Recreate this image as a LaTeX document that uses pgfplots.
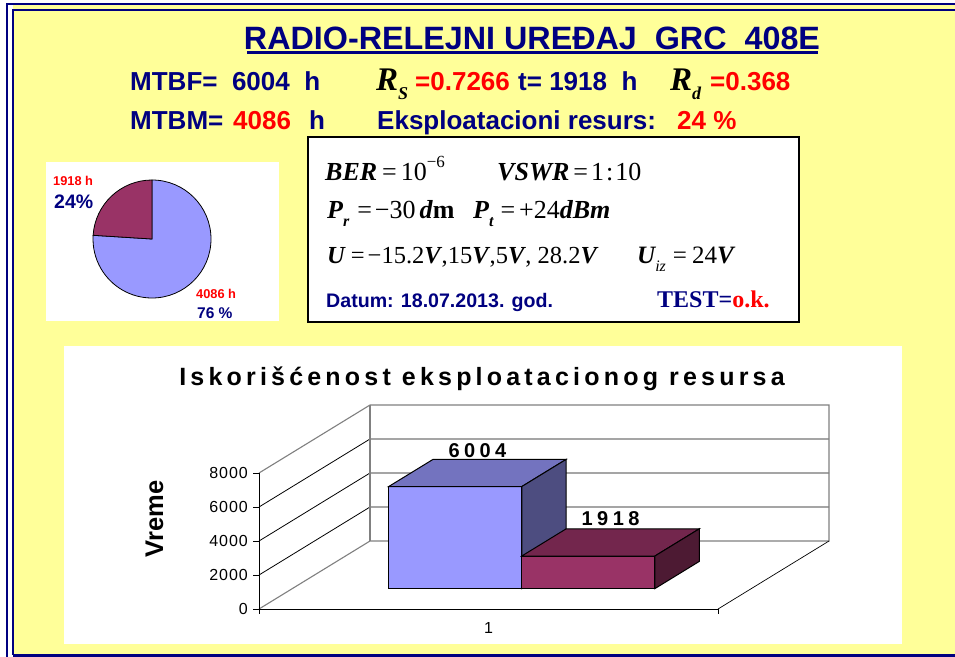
\documentclass[border=0pt]{standalone}
\usepackage{pgfplots}
\pgfplotsset{compat=1.18}
\usepackage{fontspec}
\setmainfont{Liberation Sans}
\newfontfamily\tnr{Liberation Serif}
\definecolor{bgyellow}{HTML}{FFFF99}
\definecolor{navy}{HTML}{000080}
\definecolor{bfront}{HTML}{9999FF}
\definecolor{btop}{HTML}{7373BF}
\definecolor{bside}{HTML}{4D4D80}
\definecolor{rfront}{HTML}{993366}
\definecolor{rtop}{HTML}{73264D}
\definecolor{rside}{HTML}{4D1A33}
\definecolor{wallgray}{HTML}{808080}
\newcommand\fs[1]{\fontsize{#1}{#1}\selectfont}
\newcommand\bi[1]{{\bfseries\itshape #1}}
\newcommand\sub[1]{\raisebox{-0.32em}{\fs{16}#1}}
\begin{document}
\begin{tikzpicture}
\begin{scope}[x=1pt,y=-1pt]
\useasboundingbox (0,0) rectangle (955,656);
% background and frame
\fill[white] (0,0) rectangle (955,656);
\fill[bgyellow] (13,4) rectangle (955,656);
\draw[navy, line width=2pt] (7,660) -- (7,4) -- (960,4);
\draw[navy, line width=2pt] (13,654.5) -- (13,10) -- (960,10);
\draw[navy, line width=3pt] (13,655) -- (960,655);
% title
\node[anchor=base, inner sep=0, text=navy, font=\fs{32.3}\bfseries] at (532,49.5) {RADIO-RELEJNI UREĐAJ\ \ GRC\ \ 408E};
\draw[navy, line width=3pt] (247,52.8) -- (818,52.8);
% line 2
\begin{scope}[every node/.style={anchor=base west, inner sep=0}]
\node[text=navy, font=\fs{26}\bfseries] at (130,90) {MTBF=\ \ 6004\ \ h};
\node[font=\tnr\fs{33}] at (376,90) {\bi{R}\raisebox{-0.3em}{\fs{18}\bi{S}}};
\node[text=red, font=\fs{26}\bfseries] at (415,90) {=0.7266};
\node[text=navy, font=\fs{26}\bfseries] at (518,90) {t=\ 1918\ \ h};
\node[font=\tnr\fs{33}] at (670,90) {\bi{R}\raisebox{-0.3em}{\fs{18}\bi{d}}};
\node[text=red, font=\fs{26}\bfseries] at (710,90) {=0.368};
% line 3
\node[text=navy, font=\fs{26}\bfseries] at (130,129) {MTBM=};
\node[text=red, font=\fs{26}\bfseries] at (233,129) {4086};
\node[text=navy, font=\fs{26}\bfseries] at (309,129) {h};
\node[text=navy, font=\fs{26}\bfseries] at (377,129) {Eksploatacioni resurs:};
\node[text=red, font=\fs{26}\bfseries] at (677,129) {24 \%};
\end{scope}
% white panels
\fill[white] (46,162) rectangle (279,321);
\filldraw[fill=white, draw=black, line width=2pt] (308,137) rectangle (799,322);
\fill[white] (64,346) rectangle (902,644);
% box text
\begin{scope}[every node/.style={anchor=base west, inner sep=0}]
\node[font=\tnr\fs{26}] at (325,180) {\bi{BER}\hspace{5pt}=\hspace{4pt}10\raisebox{0.5em}{\fs{17}−6}};
\node[font=\tnr\fs{26}] at (497,180) {\bi{VSWR}\hspace{4pt}=\hspace{3pt}1\hspace{2pt}:\hspace{2pt}10};
\node[font=\tnr\fs{26}] at (327,218) {\bi{P}\sub{\bi{r}}\hspace{8pt}=\hspace{3pt}−30\hspace{4pt}\bi{d}\textbf{m}};
\node[font=\tnr\fs{26}] at (473,218) {\bi{P}\sub{\bi{t}}\hspace{7pt}=\hspace{4pt}+24\bi{dBm}};
\node[font=\tnr\fs{24.5}] at (327,263) {\bi{U}\hspace{6pt}=\hspace{3pt}−15.2\bi{V}\hspace{1pt},15\bi{V}\hspace{1pt},5\bi{V}\hspace{1pt}, 28.2\bi{V}};
\node[font=\tnr\fs{25}] at (637,263) {\bi{U}\sub{\itshape iz}\hspace{7pt}=\hspace{5pt}24\bi{V}};
\node[text=navy, font=\fs{19.6}\bfseries] at (326,307) {Datum: 18.07.2013. god.};
\node[text=navy, font=\tnr\fs{24}\bfseries] at (657,307) {TEST=\textcolor{red}{o.k.}};
% pie labels
\node[text=red, font=\fs{12.8}\bfseries] at (53,185) {1918 h};
\node[text=navy, font=\fs{19.5}\bfseries] at (54,208) {24\%};
\node[text=red, font=\fs{12.8}\bfseries] at (196,298) {4086 h};
\node[text=navy, font=\fs{15.5}\bfseries] at (197,318) {76 \%};
\end{scope}
% chart title and y label
\node[anchor=base, inner sep=0, font=\fs{25}\bfseries\addfontfeatures{LetterSpace=16.8}] at (482,385) {Iskorišćenost eksploatacionog resursa};
\node[anchor=base, inner sep=0, rotate=90, font=\fs{25.5}\bfseries] at (163,519) {Vreme};
\end{scope}
% pie chart
\begin{axis}[at={(152pt,-239pt)}, anchor=origin, x={(1pt,0pt)}, y={(0pt,1pt)},
  xmin=-60, xmax=60, ymin=-60, ymax=60, hide axis, clip=false]
\filldraw[fill=bfront, draw=black, line width=0.8pt] (axis cs:0,0) -- (axis cs:0,59) arc[start angle=90, end angle=-183.6, radius=59pt] -- cycle;
\filldraw[fill=rfront, draw=black, line width=0.8pt] (axis cs:0,0) -- (axis cs:0,59) arc[start angle=90, end angle=176.4, radius=59pt] -- cycle;
\end{axis}
% 3D bar chart
\begin{axis}[at={(259pt,-609pt)}, anchor=origin,
  x={(459pt,0pt)}, y={(111pt,68pt)}, z={(0pt,0.017pt)},
  xmin=0, xmax=1, ymin=0, ymax=1, zmin=0, zmax=8000,
  hide axis, clip=false,
  every axis plot/.append style={no markers}]
% gridlines
\foreach \v in {2000,4000,6000}{
  \edef\tmp{\noexpand\draw[black, line width=0.8pt] (axis cs:0,0,\v) -- (axis cs:0,1,\v) -- (axis cs:1,1,\v);}\tmp
}
% wall edges
\draw[wallgray, line width=1.1pt] (axis cs:0,0,0) -- (axis cs:0,1,0) -- (axis cs:1,1,0) -- (axis cs:1,1,8000) -- (axis cs:0,1,8000) -- (axis cs:0,0,8000);
\draw[wallgray, line width=1.1pt] (axis cs:0,1,0) -- (axis cs:0,1,8000);
% floor and axes
\draw[black, line width=0.7pt] (axis cs:1,0,0) -- (axis cs:1,1,0);
\draw[black, line width=1pt] (axis cs:0,0,8000) -- (axis cs:0,0,0) -- (axis cs:1,0,0);
\foreach \v in {0,2000,4000,6000,8000}{
  \edef\tmp{\noexpand\draw[black, line width=0.8pt] (axis cs:0,0,\v) -- ++(-6pt,0pt);
  \noexpand\node[anchor=east, inner sep=0, font=\noexpand\fs{16}\noexpand\addfontfeatures{LetterSpace=6}] at (axis cs:0,0,\v) [xshift=-11pt] {\v};}\tmp
}
\draw[black, line width=0.8pt] (axis cs:0,0,0) -- ++(0pt,-5pt);
\draw[black, line width=0.8pt] (axis cs:1,0,0) -- ++(0pt,-5pt);
\node[anchor=north, inner sep=0, font=\fs{16}] at (axis cs:0.5,0,0) [yshift=-13pt] {1};
% blue bar 6004
\addplot3[fill=bfront, draw=black, line width=1pt] coordinates {(0.21,0.3,0) (0.5,0.3,0) (0.5,0.3,6004) (0.21,0.3,6004)} -- cycle;
\addplot3[fill=btop, draw=black, line width=1pt] coordinates {(0.21,0.3,6004) (0.5,0.3,6004) (0.5,0.7,6004) (0.21,0.7,6004)} -- cycle;
\addplot3[fill=bside, draw=black, line width=1pt] coordinates {(0.5,0.3,0) (0.5,0.7,0) (0.5,0.7,6004) (0.5,0.3,6004)} -- cycle;
% red bar 1918
\addplot3[fill=rfront, draw=black, line width=1pt] coordinates {(0.5,0.3,0) (0.79,0.3,0) (0.79,0.3,1918) (0.5,0.3,1918)} -- cycle;
\addplot3[fill=rtop, draw=black, line width=1pt] coordinates {(0.5,0.3,1918) (0.79,0.3,1918) (0.79,0.7,1918) (0.5,0.7,1918)} -- cycle;
\addplot3[fill=rside, draw=black, line width=1pt] coordinates {(0.79,0.3,0) (0.79,0.7,0) (0.79,0.7,1918) (0.79,0.3,1918)} -- cycle;
% data labels
\node[anchor=base, inner sep=0, font=\fs{20}\bfseries\addfontfeatures{LetterSpace=22}] at (axis cs:0.355,0.5,6004) [yshift=15pt] {6004};
\node[anchor=base, inner sep=0, font=\fs{20}\bfseries\addfontfeatures{LetterSpace=22}] at (axis cs:0.645,0.5,1918) [yshift=17pt] {1918};
\end{axis}
\end{tikzpicture}
\end{document}
